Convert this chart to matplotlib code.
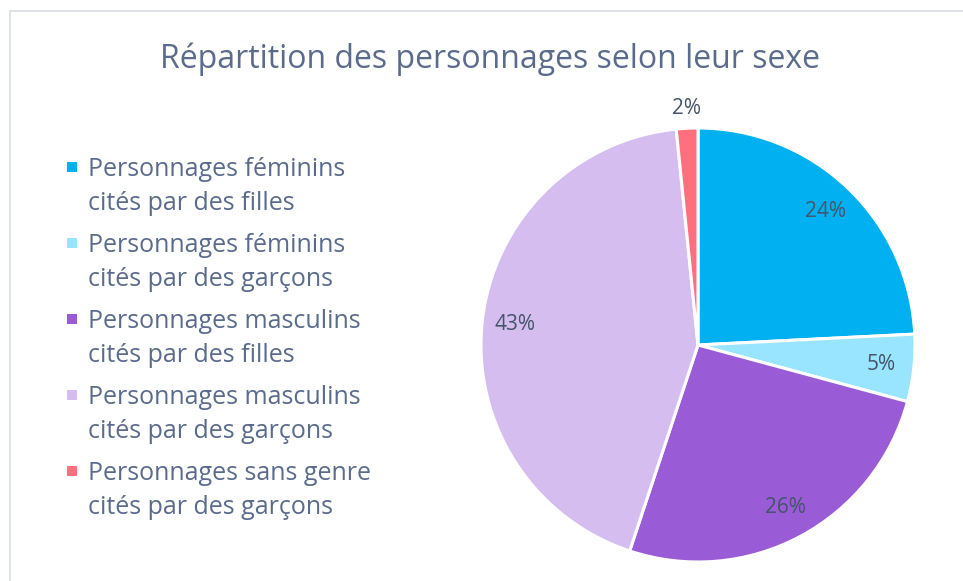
import matplotlib
matplotlib.use("Agg")
import matplotlib.pyplot as plt
from matplotlib.patches import Rectangle
import numpy as np

categories = [
    "Personnages féminins\ncités par des filles",
    "Personnages féminins\ncités par des garçons",
    "Personnages masculins\ncités par des filles",
    "Personnages masculins\ncités par des garçons",
    "Personnages sans genre\ncités par des garçons",
]
values = [24.2, 5.0, 25.9, 43.3, 1.6]
labels_pct = ["24%", "5%", "26%", "43%", "2%"]
colors = ["#00B0F0", "#99E5FF", "#9A5BD6", "#D5BEEF", "#FF6F7D"]
title = "Répartition des personnages selon leur sexe"

W, H = 963, 581
plt.rcParams['font.family'] = ['Open Sans', 'DejaVu Sans']
fig = plt.figure(figsize=(W / 100, H / 100), dpi=100)

# chart frame
fig.patches.append(Rectangle((10 / W, -0.01), 1.2, 1 - 11 / H + 0.01, transform=fig.transFigure,
                             fill=False, edgecolor="#D9DDE4", linewidth=1.2))

cx, cy, r = 698, 345, 217
ax = fig.add_axes([(cx - r) / W, (H - cy - r) / H, 2 * r / W, 2 * r / H])
wedges, texts = ax.pie(values, colors=colors, startangle=90, counterclock=False,
                       radius=1, labels=labels_pct, labeldistance=0.85,
                       wedgeprops=dict(edgecolor="white", linewidth=2.2),
                       textprops=dict(color="#44546A", fontsize=15))
for t in texts:
    t.set_ha("center"); t.set_va("center")
x, y = texts[-1].get_position()
n = np.hypot(x, y)
texts[-1].set_position((x / n * 1.09, y / n * 1.09))
ax.set_xlim(-1, 1); ax.set_ylim(-1, 1)
ax.set_aspect("equal")
ax.axis("off")

fig.text(490 / W, 1 - 59 / H, title, ha="center", va="center", fontsize=23, color="#5A6B8C")

# legend (manual, marker aligned with first line)
y0, step = 167, 76
for i, (lab, col) in enumerate(zip(categories, colors)):
    yc = y0 + i * step
    fig.patches.append(Rectangle((67 / W, 1 - (yc + 5) / H), 10 / W, 10 / H,
                                 transform=fig.transFigure, facecolor=col, edgecolor="none"))
    fig.text(88 / W, 1 - (yc - 10) / H, lab, ha="left", va="top", fontsize=18,
             color="#5A6B8C", linespacing=1.5)

fig.savefig("out.png", dpi=100)
